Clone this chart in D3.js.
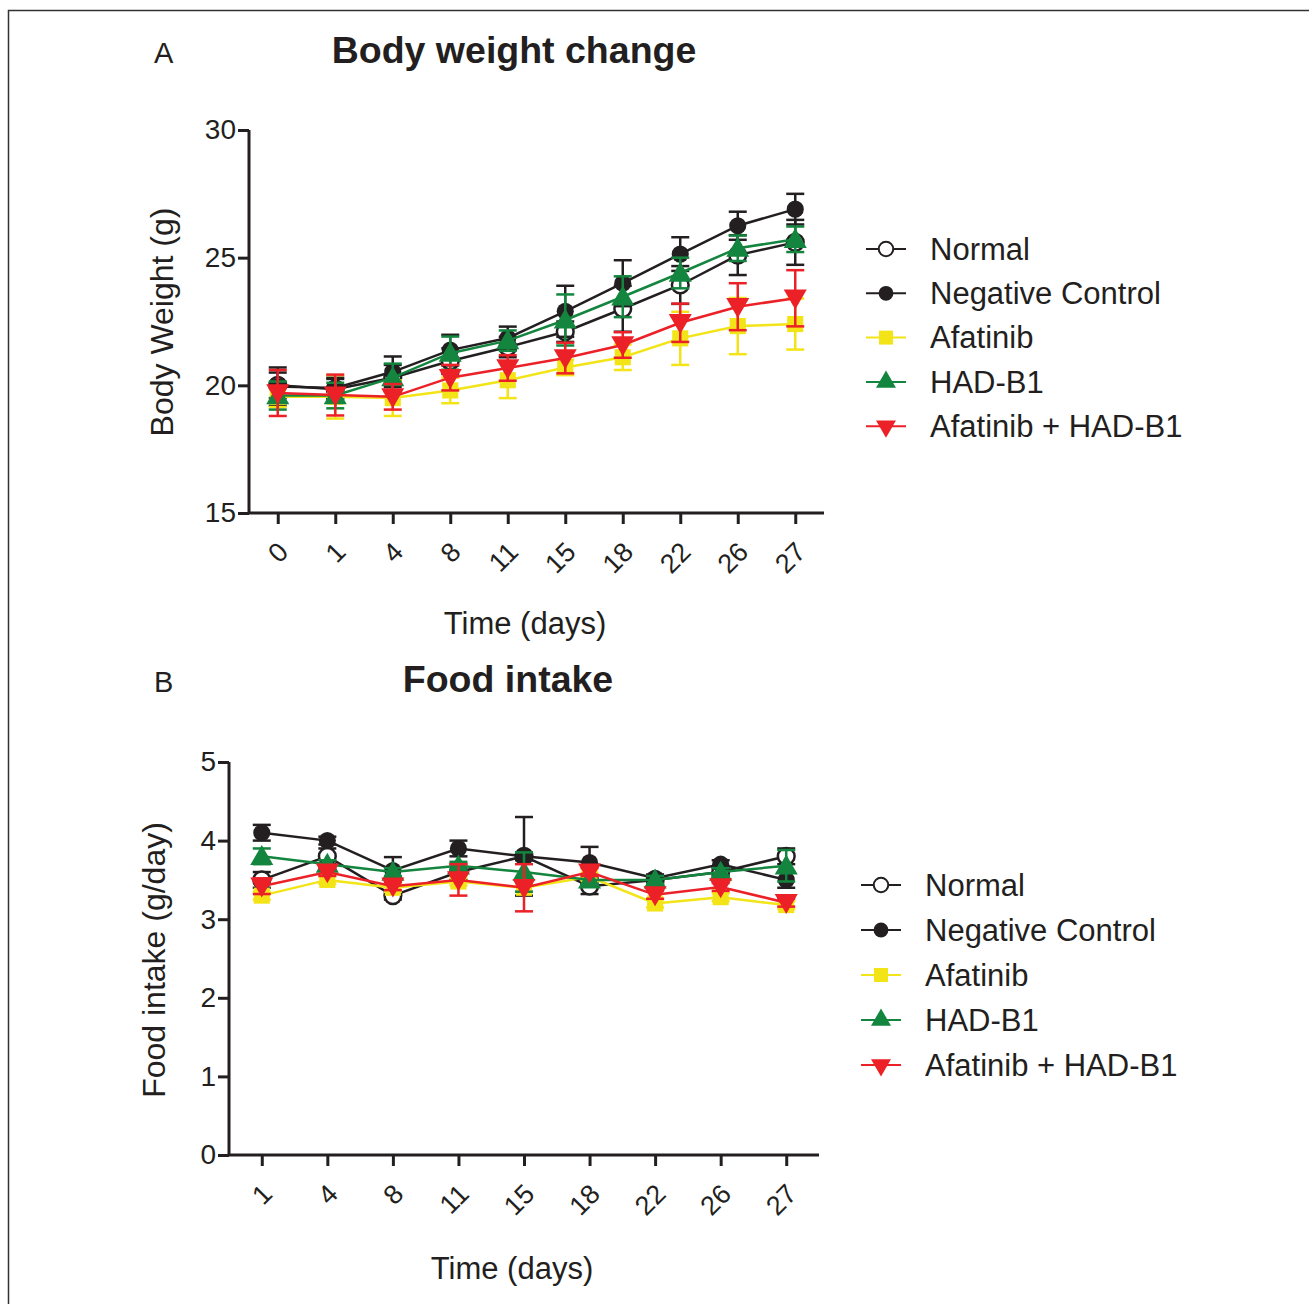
<!DOCTYPE html>
<html>
<head>
<meta charset="utf-8">
<script src="https://cdn.jsdelivr.net/npm/d3@7"></script>
<style>
  body { margin: 0; background: #fff; }
  svg text { font-family: "Liberation Sans", Arial, sans-serif; fill: #231f20; }
</style>
</head>
<body>
<div id="chart"></div>
<script>
// ---- data ----
const groups = ["Normal", "Negative Control", "Afatinib", "HAD-B1", "Afatinib + HAD-B1"];

const weightDays = ["0", "1", "4", "8", "11", "15", "18", "22", "26", "27"];
const weightNormal = [20.0, 19.85, 20.3, 20.95, 21.5, 22.1, 23.0, 23.93, 25.1, 25.6];
const weightNegative = [19.95, 19.9, 20.53, 21.38, 21.85, 22.9, 24.0, 25.14, 26.25, 26.9];
const weightAfatinib = [19.55, 19.55, 19.5, 19.8, 20.2, 20.7, 21.1, 21.84, 22.32, 22.4];
const weightHad = [19.6, 19.6, 20.3, 21.26, 21.75, 22.56, 23.47, 24.4, 25.37, 25.72];
const weightCombo = [19.7, 19.62, 19.55, 20.3, 20.68, 21.07, 21.58, 22.45, 23.08, 23.41];
const weightNormalErr = [0.5, 0.4, 0.5, 0.5, 0.4, 0.4, 0.9, 0.74, 0.78, 0.88];
const weightNegativeErr = [0.75, 0.4, 0.6, 0.6, 0.45, 1.0, 0.9, 0.66, 0.55, 0.6];
const weightAfatinibErr = [0.4, 0.85, 0.7, 0.5, 0.7, 0.3, 0.5, 1.04, 1.1, 1.0];
const weightHadErr = [0.55, 0.5, 0.55, 0.65, 0.4, 1.0, 0.8, 0.6, 0.5, 0.5];
const weightComboErr = [0.9, 0.8, 0.5, 0.5, 0.5, 0.6, 0.5, 0.75, 0.92, 1.1];

const foodDays = ["1", "4", "8", "11", "15", "18", "22", "26", "27"];
const foodNormal = [3.5, 3.8, 3.3, 3.6, 3.8, 3.42, 3.5, 3.6, 3.8];
const foodNegative = [4.1, 4.0, 3.62, 3.9, 3.8, 3.72, 3.52, 3.7, 3.5];
const foodAfatinib = [3.3, 3.5, 3.4, 3.48, 3.4, 3.54, 3.2, 3.28, 3.18];
const foodHad = [3.8, 3.7, 3.6, 3.68, 3.6, 3.5, 3.5, 3.6, 3.68];
const foodCombo = [3.42, 3.6, 3.42, 3.5, 3.4, 3.6, 3.31, 3.41, 3.21];
const foodNormalErr = [0.1, 0.1, 0.05, 0.1, 0.05, 0.1, 0.05, 0.05, 0.1];
const foodNegativeErr = [0.1, 0.05, 0.17, 0.1, 0.5, 0.2, 0.05, 0.05, 0.1];
const foodAfatinibErr = [0.05, 0.05, 0.05, 0.05, 0.05, 0.05, 0.05, 0.05, 0.05];
const foodHadErr = [0.1, 0.05, 0.05, 0.05, 0.25, 0.05, 0.05, 0.05, 0.2];
const foodComboErr = [0.1, 0.05, 0.05, 0.2, 0.3, 0.05, 0.05, 0.05, 0.05];

const weightTicks = [15, 20, 25, 30];
const foodTicks = [0, 1, 2, 3, 4, 5];

// ---- style per group ----
const styles = {
    "Normal": { line: "#231f20", fill: "#fff", stroke: "#231f20", symbol: d3.symbolCircle, size: 220 },
    "Negative Control": { line: "#231f20", fill: "#231f20", stroke: "#231f20", symbol: d3.symbolCircle, size: 230 },
    "Afatinib": { line: "#f2e417", fill: "#f2e417", stroke: "#f2e417", symbol: d3.symbolSquare, size: 260 },
    "HAD-B1": { line: "#14853e", fill: "#14853e", stroke: "#14853e", symbol: d3.symbolTriangle, size: 230 },
    "Afatinib + HAD-B1": { line: "#ec2027", fill: "#ec2027", stroke: "#ec2027", symbol: d3.symbolTriangle, size: 230, flip: true }
};

const svg = d3.select("#chart").append("svg")
    .attr("width", 1309)
    .attr("height", 1304);

// frame
svg.append("path")
    .attr("d", "M8.5,1304 L8.5,10.5 L1309,10.5")
    .attr("fill", "none")
    .attr("stroke", "#333")
    .attr("stroke-width", 1.5);

function drawPanel(cfg) {
    const g = svg.append("g");
    const x = d3.scalePoint().domain(cfg.days).range([cfg.x0, cfg.x1]).padding(0.5);
    const y = d3.scaleLinear().domain(cfg.yDomain).range([cfg.y1, cfg.y0]);

    // axes
    const yAxis = g.append("g")
        .attr("transform", `translate(${cfg.x0},0)`)
        .call(d3.axisLeft(y).tickValues(cfg.yTicks).tickFormat(d3.format("d")).tickSize(11).tickPadding(2));
    const xAxis = g.append("g")
        .attr("transform", `translate(0,${cfg.y1})`)
        .call(d3.axisBottom(x).tickSize(11));
    [yAxis, xAxis].forEach(a => {
        a.attr("font-size", null).attr("font-family", null);
        a.select(".domain").attr("stroke", "#231f20").attr("stroke-width", 3);
        a.selectAll(".tick line").attr("stroke", "#231f20").attr("stroke-width", 3);
    });
    yAxis.select(".domain").attr("d", `M0,${cfg.y0}V${cfg.y1}`);
    xAxis.select(".domain").attr("d", `M${cfg.x0},0H${cfg.x1}`);
    yAxis.selectAll(".tick text")
        .style("font-size", "28px")
        .attr("fill", "#231f20");
    xAxis.selectAll(".tick text")
        .style("font-size", "27px")
        .attr("fill", "#231f20")
        .attr("text-anchor", "end")
        .attr("x", 0).attr("y", 0).attr("dy", "0.35em")
        .attr("transform", "translate(5,34) rotate(-45)");

    // titles
    g.append("text")
        .attr("x", cfg.titleX).attr("y", cfg.titleY)
        .attr("text-anchor", "middle")
        .style("font-size", "37.5px").attr("font-weight", "bold")
        .text(cfg.title);
    g.append("text")
        .attr("x", 154).attr("y", cfg.titleY)
        .style("font-size", "29px")
        .text(cfg.letter);
    g.append("text")
        .attr("x", cfg.xLabelX).attr("y", cfg.xLabelY)
        .attr("text-anchor", "middle")
        .style("font-size", "31px")
        .text("Time (days)");
    g.append("text")
        .attr("transform", `translate(${cfg.yLabelX},${cfg.yLabelY}) rotate(-90)`)
        .attr("text-anchor", "middle")
        .style("font-size", "32px")
        .text(cfg.yLabel);

    const line = d3.line().x(d => x(d.day)).y(d => y(d.v));
    const sym = d3.symbol();

    cfg.series.forEach(s => {
        const st = styles[s.name];
        const pts = cfg.days.map((day, i) => ({ day, v: s.values[i], e: s.err[i] }));
        const sg = g.append("g");
        // error bars
        const eb = sg.selectAll(".err").data(pts).enter().append("g")
            .attr("stroke", st.stroke).attr("stroke-width", 2.5);
        eb.append("line")
            .attr("x1", d => x(d.day)).attr("x2", d => x(d.day))
            .attr("y1", d => y(d.v + d.e)).attr("y2", d => y(d.v - d.e));
        eb.append("line")
            .attr("x1", d => x(d.day) - 9).attr("x2", d => x(d.day) + 9)
            .attr("y1", d => y(d.v + d.e)).attr("y2", d => y(d.v + d.e));
        eb.append("line")
            .attr("x1", d => x(d.day) - 9).attr("x2", d => x(d.day) + 9)
            .attr("y1", d => y(d.v - d.e)).attr("y2", d => y(d.v - d.e));
        // line
        sg.append("path")
            .datum(pts)
            .attr("d", line)
            .attr("fill", "none")
            .attr("stroke", st.line)
            .attr("stroke-width", 2.5);
        // markers
        sg.selectAll(".mk").data(pts).enter().append("path")
            .attr("d", sym.type(st.symbol).size(st.size))
            .attr("transform", d => `translate(${x(d.day)},${y(d.v) + (st.symbol === d3.symbolTriangle ? (st.flip ? -2 : 2) : 0)})${st.flip ? " rotate(180)" : ""}`)
            .attr("fill", st.fill)
            .attr("stroke", st.stroke)
            .attr("stroke-width", st.fill === "#fff" ? 2.5 : 0);
    });

    // legend
    const lg = g.append("g");
    groups.forEach((name, i) => {
        const st = styles[name];
        const ly = cfg.legendY + i * cfg.legendStep;
        lg.append("line")
            .attr("x1", cfg.legendX).attr("x2", cfg.legendX + 40)
            .attr("y1", ly).attr("y2", ly)
            .attr("stroke", st.line).attr("stroke-width", 2);
        lg.append("path")
            .attr("d", d3.symbol().type(st.symbol).size(st.size * 0.75)())
            .attr("transform", `translate(${cfg.legendX + 20},${ly})${st.flip ? " rotate(180)" : ""}`)
            .attr("fill", st.fill)
            .attr("stroke", st.stroke)
            .attr("stroke-width", st.fill === "#fff" ? 2 : 0);
        lg.append("text")
            .attr("x", cfg.legendX + 64).attr("y", ly)
            .attr("dy", "0.35em")
            .style("font-size", "31px")
            .text(name);
    });
}

drawPanel({
    letter: "A", title: "Body weight change", titleX: 514, titleY: 63,
    days: weightDays, yDomain: [15, 30], yTicks: weightTicks,
    x0: 249, x1: 824, y0: 130, y1: 513,
    xLabelX: 525, xLabelY: 634, yLabelX: 173, yLabelY: 322, yLabel: "Body Weight (g)",
    legendX: 866, legendY: 249, legendStep: 44.3,
    series: [
        { name: "Normal", values: weightNormal, err: weightNormalErr },
        { name: "Negative Control", values: weightNegative, err: weightNegativeErr },
        { name: "Afatinib", values: weightAfatinib, err: weightAfatinibErr },
        { name: "HAD-B1", values: weightHad, err: weightHadErr },
        { name: "Afatinib + HAD-B1", values: weightCombo, err: weightComboErr }
    ]
});

drawPanel({
    letter: "B", title: "Food intake", titleX: 508, titleY: 692,
    days: foodDays, yDomain: [0, 5], yTicks: foodTicks,
    x0: 229, x1: 819, y0: 762, y1: 1155,
    xLabelX: 512, xLabelY: 1279, yLabelX: 165, yLabelY: 960, yLabel: "Food intake (g/day)",
    legendX: 861, legendY: 885, legendStep: 45,
    series: [
        { name: "Normal", values: foodNormal, err: foodNormalErr },
        { name: "Negative Control", values: foodNegative, err: foodNegativeErr },
        { name: "Afatinib", values: foodAfatinib, err: foodAfatinibErr },
        { name: "HAD-B1", values: foodHad, err: foodHadErr },
        { name: "Afatinib + HAD-B1", values: foodCombo, err: foodComboErr }
    ]
});
</script>
</body>
</html>
